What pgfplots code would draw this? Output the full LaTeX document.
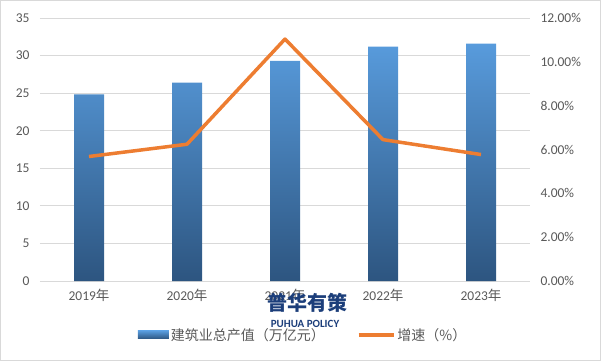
\documentclass[border=0pt]{standalone}
\usepackage{pgfplots}
\pgfplotsset{compat=1.18}
\usepackage{fontspec}
\setmainfont{Carlito}
\newfontfamily\cjk{Noto Sans CJK SC}
\definecolor{txtgray}{RGB}{89,89,89}
\definecolor{gridgray}{RGB}{217,217,217}
\definecolor{bartop}{RGB}{88,155,220}
\definecolor{barbot}{RGB}{45,85,128}
\definecolor{lineor}{RGB}{237,125,49}
\definecolor{wmblue}{RGB}{28,62,122}
\begin{document}
\begin{tikzpicture}
\path[use as bounding box] (0,0) rectangle (601bp,361bp);
\draw[gridgray,line width=1bp] (0.5bp,0.5bp) rectangle (600.5bp,360.5bp);
\begin{axis}[
  at={(40bp,80bp)}, anchor=south west,
  scale only axis, width=490bp, height=263bp,
  xmin=-0.5, xmax=4.5, ymin=0, ymax=35,
  xtick={0,1,2,3,4},
  xticklabels={2019{\cjk 年},2020{\cjk 年},2021{\cjk 年},2022{\cjk 年},2023{\cjk 年}},
  ytick={0,5,...,35},
  axis y line*=left, axis x line*=bottom,
  y axis line style={draw=none},
  x axis line style={gridgray,line width=1bp},
  major tick length=0pt,
  ymajorgrids, grid style={gridgray,line width=0.8bp},
  /pgf/number format/assume math mode=true,
  tick label style={font=\fontsize{13.5bp}{15bp}\selectfont, text=txtgray},
  xticklabel style={yshift=-5bp},
  yticklabel style={xshift=-7bp},
  clip=false,
]
\addplot[ybar, bar width=30bp, draw=none, shade, top color=bartop, bottom color=barbot]
  coordinates {(0,24.84) (1,26.39) (2,29.31) (3,31.20) (4,31.59)};
\end{axis}
\begin{axis}[
  at={(40bp,80bp)}, anchor=south west,
  scale only axis, width=490bp, height=263bp,
  xmin=-0.5, xmax=4.5, ymin=0, ymax=12,
  axis y line*=right, axis x line=none,
  y axis line style={draw=none},
  major tick length=0pt,
  ytick={0,2,...,12},
  yticklabel={\pgfmathprintnumber[fixed,fixed zerofill,precision=2]{\tick}\%},
  /pgf/number format/assume math mode=true,
  tick label style={font=\fontsize{13.5bp}{15bp}\selectfont, text=txtgray},
  yticklabel style={xshift=7bp},
  legend columns=2,
  legend style={at={(0.537,-0.205)}, anchor=center, draw=none, fill=none,
    font=\fontsize{14bp}{16bp}\selectfont\cjk, text=txtgray,
    /tikz/every even column/.append style={column sep=30bp}},
  clip=false,
]
\addlegendimage{legend image code/.code={\shade[draw=none, top color=bartop, bottom color=barbot] (0bp,-4bp) rectangle (31bp,4bp);}}
\addlegendentry{建筑业总产值（万亿元）}
\addplot[lineor, line width=3.5bp, line join=round, mark=none,
  legend image code/.code={\draw[lineor,line width=3.5bp] (0bp,0bp) -- (35bp,0bp);}]
  coordinates {(0,5.68) (1,6.24) (2,11.04) (3,6.45) (4,5.77)};
\addlegendentry{增速（\%）}
\end{axis}
\node[text=wmblue, font=\fontsize{20bp}{22bp}\selectfont\cjk\bfseries] at (307bp,58bp) {普华有策};
\node[text=wmblue, font=\fontsize{11bp}{12bp}\selectfont\bfseries] at (305bp,37bp) {PUHUA POLICY};
\end{tikzpicture}
\end{document}
